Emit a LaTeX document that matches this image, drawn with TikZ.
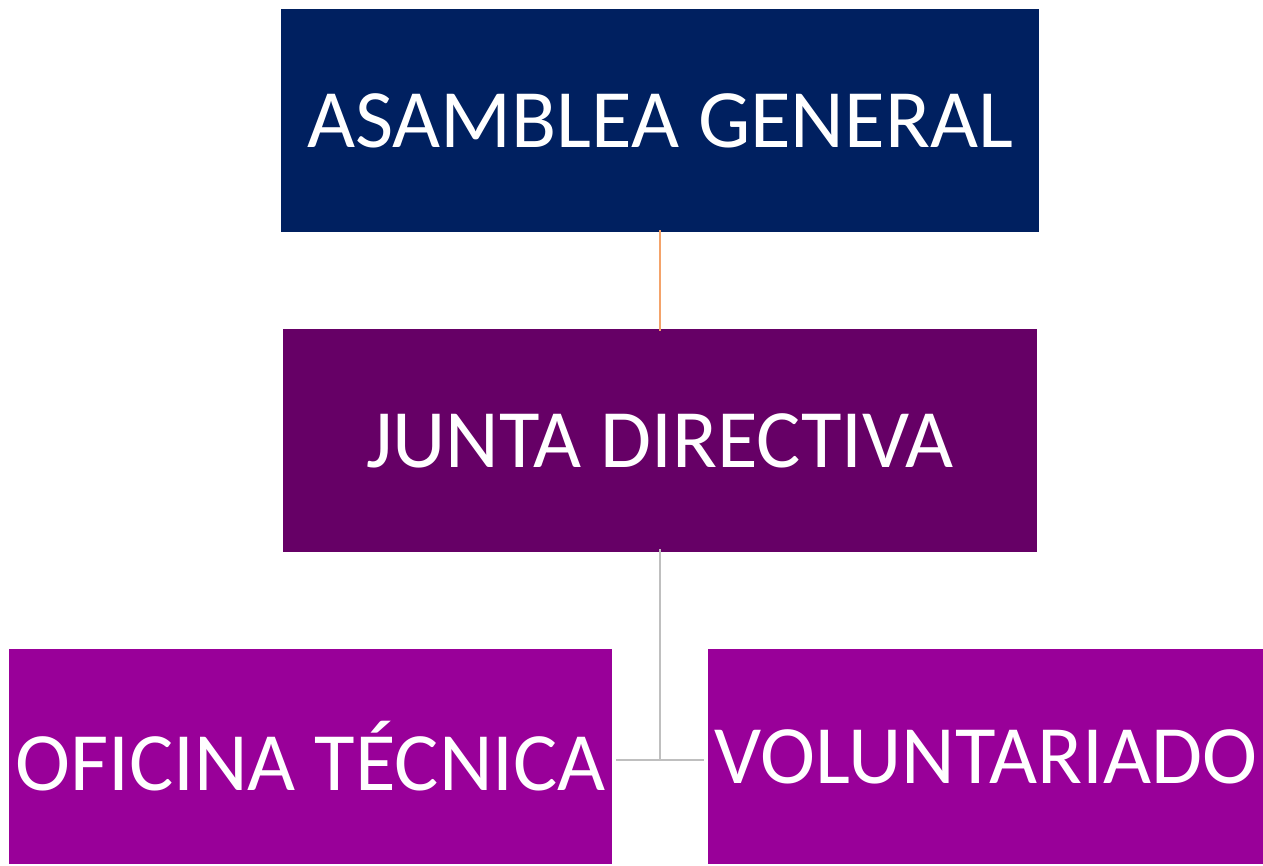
\documentclass[tikz,border=0pt]{standalone}
\usepackage{fontspec}
\setmainfont{Carlito}
\definecolor{navy}{HTML}{002060}
\definecolor{plum}{HTML}{660066}
\definecolor{violet2}{HTML}{990099}
\definecolor{orangeline}{HTML}{F4A36A}
\definecolor{greyline}{HTML}{BFBFBF}
\tikzset{
  orgbox/.style={draw=none, inner sep=0pt, outer sep=0pt, text=white,
    font=\fontsize{83}{88}\selectfont},
  link/.style={line width=2.2pt}
}
\begin{document}
\begin{tikzpicture}[x=1pt,y=-1pt]
\useasboundingbox (0,0) rectangle (1263,865);
\fill[white] (0,0) rectangle (1263,865);
\node[orgbox, fill=navy, minimum width=758pt, minimum height=223pt] (ag) at (660,120.5) {ASAMBLEA GENERAL};
\node[orgbox, fill=plum, minimum width=754pt, minimum height=223pt] (jd) at (660,440.5) {JUNTA DIRECTIVA};
\node[orgbox, fill=violet2, minimum width=603pt, minimum height=215pt] (ot) at (310.5,756.5) {OFICINA TÉCNICA};
\node[orgbox, fill=violet2, minimum width=556pt, minimum height=215pt] (vo) at (986,756.5) {VOLUNTARIADO};
\coordinate (j) at (660,760);
\draw[link, orangeline] ([yshift=2pt]ag.south) -- ([yshift=-2pt]jd.north);
\draw[link, greyline] ([yshift=3pt]jd.south) -- (j);
\draw[link, greyline] ([xshift=4pt]ot.east |- j) -- ([xshift=-4pt]vo.west |- j);
\end{tikzpicture}
\end{document}
